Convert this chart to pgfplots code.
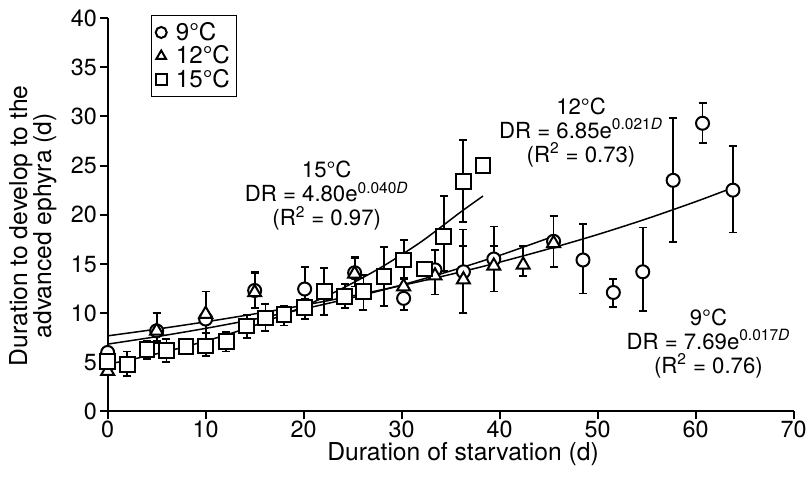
\documentclass[border=0pt]{standalone}
\usepackage{fontspec}
\setmainfont{TeX Gyre Heros}
\usepackage{pgfplots}
\pgfplotsset{compat=1.18}
\begin{document}
\begin{tikzpicture}
\useasboundingbox (-64.6pt,-41.7pt) rectangle (422.0pt,246.9pt);
\begin{axis}[
 scale only axis, width=411.6pt, height=236.1pt,
 xmin=0, xmax=70, ymin=0, ymax=40,
 axis lines=left, axis line style={-, line width=1.2pt},
 tick align=outside, major tick length=4.8pt,
 tick style={line width=1.2pt, black},
 xtick={0,10,...,70}, ytick={0,5,...,40},
 ticklabel style={font=\fontsize{14}{15}\selectfont},
 xticklabel style={inner sep=0.4pt},
 yticklabel style={inner sep=1.5pt},
 /pgf/number format/assume math mode=true,
 xlabel={Duration of starvation (d)},
 ylabel={Duration to develop to the\\advanced ephyra (d)},
 xlabel style={at={(axis description cs:0.518,-0.107)}, anchor=center, inner sep=0pt, font=\fontsize{14.8}{16}\selectfont},
 ylabel style={at={(axis description cs:-0.109,0.472)}, anchor=center, align=center, inner sep=0pt, font=\fontsize{14.8}{14.4}\selectfont},
 clip=false,
 legend style={at={(axis description cs:0.063,1.008)}, anchor=north west, draw=black, line width=0.8pt,
   font=\fontsize{14.5}{15}\selectfont, row sep=-1.2pt, inner sep=2.5pt, nodes={inner sep=1.5pt},
   /tikz/every odd column/.append style={column sep=4pt}},
 legend image post style={mark size=3.3pt, line width=1.2pt},
 legend cell align=left,
 error bars/error bar style={line width=1.1pt, black},
 error bars/error mark options={rotate=90, mark size=2.4pt, line width=1.1pt, black},
]
% fitted curves
\addplot[black, line width=0.9pt, smooth, forget plot] coordinates {
(0,7.69) (5,8.372) (10,9.115) (15,9.924) (20,10.80) (25,11.76) (30,12.81) (35,13.94) (40,15.18) (45,16.53) (50,17.99) (55,19.59) (60,21.33) (63.8,22.75)};
\addplot[black, line width=0.9pt, smooth, forget plot] coordinates {
(0,6.85) (5,7.608) (10,8.451) (15,9.387) (20,10.43) (25,11.58) (30,12.86) (35,14.29) (40,15.87) (45.5,17.81)};
\addplot[black, line width=0.9pt, smooth, forget plot] coordinates {
(0,4.80) (4,5.633) (8,6.610) (12,7.757) (16,9.103) (20,10.68) (24,12.54) (28,14.71) (32,17.26) (36,20.26) (38.3,21.9)};
% 9 C
\addplot[only marks, mark=*, mark size=3.9pt, mark options={fill=white, draw=black, line width=1.2pt},
 error bars/.cd, y dir=both, y explicit]
 table[x=x, y=y, y error plus=ep, y error minus=em] {
x y ep em
0 6.0 0.2 0.2
5 8.2 1.8 1.2
10 9.4 2.8 2.0
15 12.3 1.9 1.8
20.1 12.45 2.25 1.9
25.2 14.1 1.6 1.4
30.2 11.5 1.0 1.2
33.4 14.4 2.0 2.5
36.3 14.2 4.3 4.2
39.4 15.5 3.3 3.3
45.5 17.3 2.6 2.6
48.5 15.4 3.7 3.4
51.6 12.1 1.4 1.5
54.6 14.2 4.5 4.0
57.7 23.5 6.3 6.3
60.7 29.3 2.1 2.0
63.8 22.5 4.5 4.3
};
\addlegendentry{9°C}
% 12 C
\addplot[only marks, mark=triangle*, mark size=4.5pt, mark options={fill=white, draw=black, line width=1.2pt},
 error bars/.cd, y dir=both, y explicit]
 table[x=x, y=y, y error plus=ep, y error minus=em] {
x y ep em
0 4.1 0.2 0.2
5 8.2 1.8 1.0
10 9.9 2.3 2.5
15 12.1 2.0 1.6
25.2 14.0 1.6 1.3
30.2 12.7 0.8 0.8
33.4 13.8 1.0 1.9
36.3 13.4 3.4 3.4
39.4 14.8 2.0 2.6
42.4 14.9 1.9 1.1
45.5 17.1 0.4 0.4
};
\addlegendentry{12°C}
% 15 C
\addplot[only marks, mark=square*, mark size=4.4pt, mark options={fill=white, draw=black, line width=1.2pt},
 error bars/.cd, y dir=both, y explicit]
 table[x=x, y=y, y error plus=ep, y error minus=em] {
x y ep em
0 5.1 0.3 0.3
2 4.8 1.3 1.2
4 6.3 0.9 1.0
6 6.2 1.2 1.2
8 6.6 0.6 0.6
10 6.65 1.3 1.0
12.1 7.1 1.0 1.0
14.2 8.7 1.1 1.2
16.1 9.5 1.4 1.3
18 9.85 0.9 1.1
20.1 10.6 0.8 1.2
22.1 12.2 2.4 2.35
24.2 11.7 1.3 1.2
26.1 12.2 1.7 1.9
28.2 13.75 2.95 3.05
30.2 15.4 2.0 1.8
32.3 14.5 0.3 0.3
34.3 17.8 4.1 3.55
36.3 23.35 4.25 4.05
38.3 25.0 0.3 0.3
};
\addlegendentry{15°C}
% annotations
\node[align=center, font=\fontsize{13.3}{14.4}\selectfont] at (axis cs:22.35,21.9)
 {15°C\\DR = 4.80e\textsuperscript{0.040\textit{D}}\\(R\textsuperscript{2} = 0.97)};
\node[align=center, font=\fontsize{13.3}{14.4}\selectfont] at (axis cs:48.3,28.4)
 {12°C\\DR = 6.85e\textsuperscript{0.021\textit{D}}\\(R\textsuperscript{2} = 0.73)};
\node[align=center, font=\fontsize{13.3}{14.4}\selectfont] at (axis cs:61.3,6.9)
 {9°C\\DR = 7.69e\textsuperscript{0.017\textit{D}}\\(R\textsuperscript{2} = 0.76)};
\end{axis}
\end{tikzpicture}
\end{document}
